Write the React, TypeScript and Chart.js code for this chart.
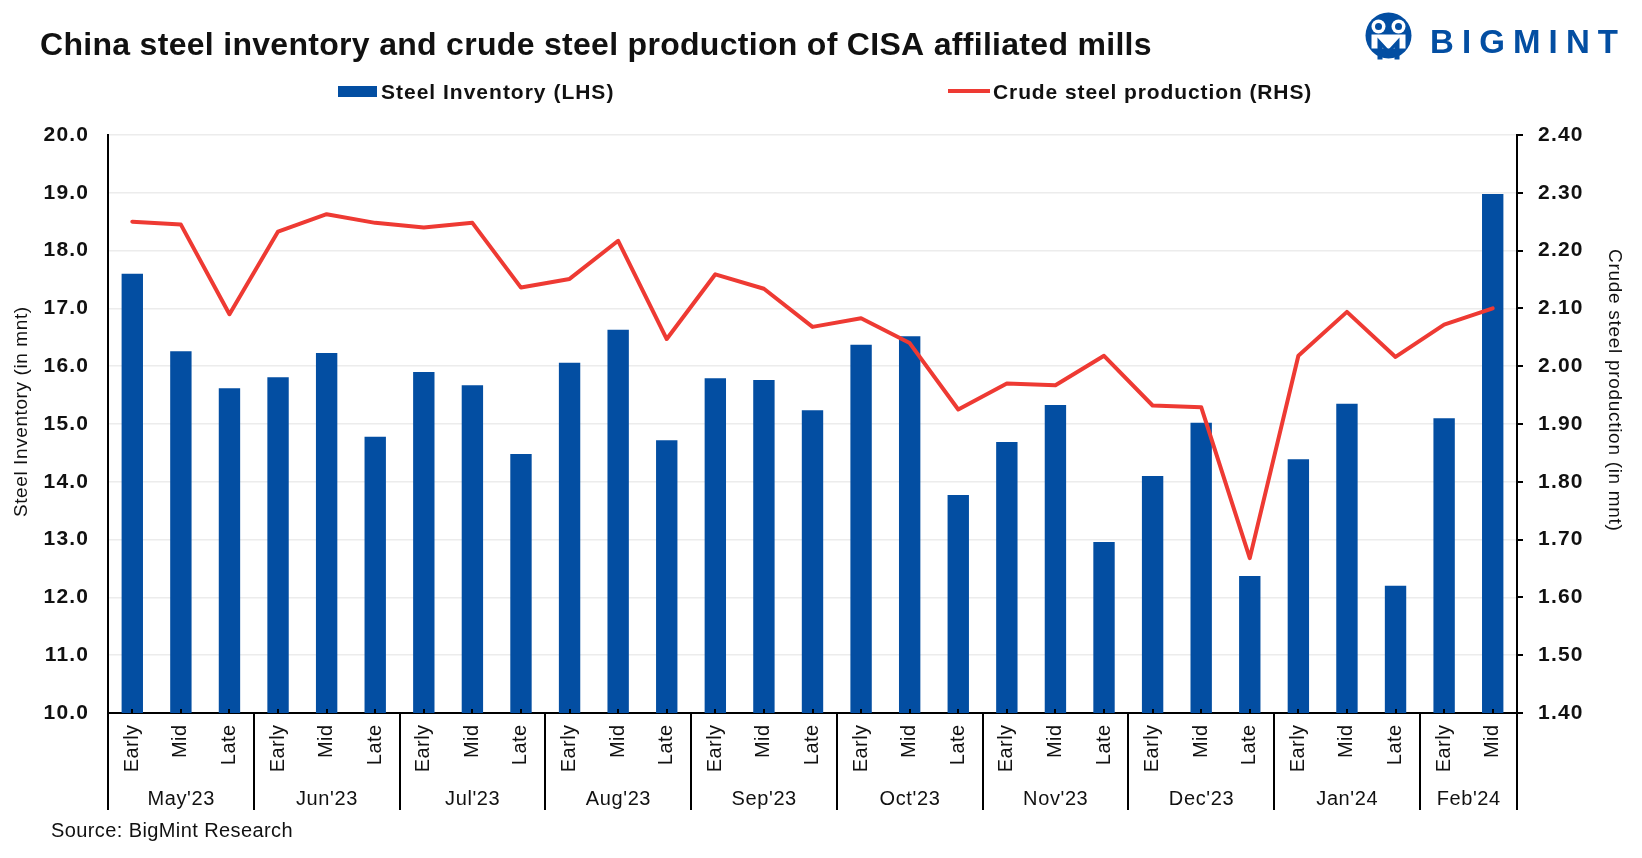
import React, { useEffect, useRef } from "react";
import { Chart, registerables } from "chart.js";

Chart.register(...registerables);

// ---------- data ----------
const periodLabels = [
  "Early", "Mid", "Late", // May'23
  "Early", "Mid", "Late", // Jun'23
  "Early", "Mid", "Late", // Jul'23
  "Early", "Mid", "Late", // Aug'23
  "Early", "Mid", "Late", // Sep'23
  "Early", "Mid", "Late", // Oct'23
  "Early", "Mid", "Late", // Nov'23
  "Early", "Mid", "Late", // Dec'23
  "Early", "Mid", "Late", // Jan'24
  "Early", "Mid",         // Feb'24
];
const months = ["May'23", "Jun'23", "Jul'23", "Aug'23", "Sep'23", "Oct'23", "Nov'23", "Dec'23", "Jan'24", "Feb'24"];
const monthSpans = [3, 3, 3, 3, 3, 3, 3, 3, 3, 2];

const steelInventory = [
  17.6, 16.26, 15.62,
  15.81, 16.23, 14.78,
  15.9, 15.67, 14.48,
  16.06, 16.63, 14.72,
  15.79, 15.76, 15.24,
  16.37, 16.52, 13.77,
  14.69, 15.33, 12.96,
  14.1, 15.02, 12.37,
  14.39, 15.35, 12.2,
  15.1, 18.98,
];
const crudeProduction = [
  2.25, 2.245, 2.09,
  2.233, 2.263, 2.248,
  2.24, 2.248, 2.136,
  2.151, 2.217, 2.047,
  2.159, 2.134, 2.068,
  2.083, 2.04, 1.925,
  1.97, 1.967, 2.018,
  1.932, 1.929, 1.668,
  2.018, 2.094, 2.016,
  2.072, 2.1,
];

const leftTicks = [10, 11, 12, 13, 14, 15, 16, 17, 18, 19, 20];
const rightTicks = [1.4, 1.5, 1.6, 1.7, 1.8, 1.9, 2.0, 2.1, 2.2, 2.3, 2.4];

const titleText = "China steel inventory and crude steel production of CISA affiliated mills";
const legendBar = "Steel Inventory (LHS)";
const legendLine = "Crude steel production (RHS)";
const leftAxisTitle = "Steel Inventory (in mnt)";
const rightAxisTitle = "Crude steel production (in mnt)";
const sourceText = "Source: BigMint Research";
const logoText = "BIGMINT";

// ---------- styles ----------
const W = 1642, H = 858;
const FONT = '"Liberation Sans", Arial, sans-serif';
const BLUE = "#034EA2";
const RED = "#EE3A33";
const INK = "#111111";

function drawText(
  ctx: CanvasRenderingContext2D,
  s: string,
  x: number,
  y: number,
  font: string,
  spacing: number,
  align: CanvasTextAlign = "left",
  baseline: CanvasTextBaseline = "alphabetic"
) {
  ctx.font = font;
  (ctx as any).letterSpacing = `${spacing}px`;
  ctx.textAlign = align;
  ctx.textBaseline = baseline;
  let dx = 0;
  if (align === "right") dx = spacing;
  else if (align === "center") dx = spacing / 2;
  ctx.fillText(s, x + dx, y);
  (ctx as any).letterSpacing = "0px";
}

const decorPlugin = {
  id: "decor",
  afterDraw(chart: any) {
    const ctx: CanvasRenderingContext2D = chart.ctx;
    const { left, right, bottom } = chart.chartArea;
    const xs = chart.scales.x;
    const ys = chart.scales.y;
    const ys1 = chart.scales.y1;
    const n = periodLabels.length;
    const cw = (right - left) / n;
    ctx.save();
    ctx.fillStyle = INK;

    // y tick labels
    leftTicks.forEach((v) => {
      drawText(ctx, v.toFixed(1), 88, ys.getPixelForValue(v), `bold 21px ${FONT}`, 1.2, "right", "middle");
    });
    rightTicks.forEach((v) => {
      drawText(ctx, v.toFixed(2), 1538, ys1.getPixelForValue(v), `bold 21px ${FONT}`, 1.2, "left", "middle");
    });

    // x tick labels (rotated)
    periodLabels.forEach((lab, i) => {
      const px = xs.getPixelForValue(i);
      ctx.save();
      ctx.translate(px, 725);
      ctx.rotate(-Math.PI / 2);
      drawText(ctx, lab, 0, 0, `20px ${FONT}`, 0.4, "right", "middle");
      ctx.restore();
    });

    // inner tick marks on x axis
    ctx.strokeStyle = "#000";
    ctx.lineWidth = 2;
    for (let i = 0; i < n; i++) {
      const px = Math.round(xs.getPixelForValue(i));
      ctx.beginPath();
      ctx.moveTo(px, bottom);
      ctx.lineTo(px, bottom - 4);
      ctx.stroke();
    }

    // month separators
    const bounds = [0];
    let acc = 0;
    monthSpans.forEach((s) => { acc += s; bounds.push(acc); });
    bounds.forEach((b) => {
      const px = Math.round(left + b * cw);
      ctx.beginPath();
      ctx.moveTo(px, bottom);
      ctx.lineTo(px, 810);
      ctx.stroke();
    });

    // month labels
    months.forEach((m, i) => {
      const cx = left + ((bounds[i] + bounds[i + 1]) / 2) * cw;
      drawText(ctx, m, cx, 805, `20px ${FONT}`, 0.6, "center");
    });

    // axis titles
    ctx.save();
    ctx.translate(22, 412);
    ctx.rotate(-Math.PI / 2);
    drawText(ctx, leftAxisTitle, 0, 0, `19px ${FONT}`, 0.6, "center", "middle");
    ctx.restore();
    ctx.save();
    ctx.translate(1614, 390);
    ctx.rotate(Math.PI / 2);
    drawText(ctx, rightAxisTitle, 0, 0, `19px ${FONT}`, 0.7, "center", "middle");
    ctx.restore();

    // title
    drawText(ctx, titleText, 40, 55, `bold 32px ${FONT}`, 0.3, "left");

    // legend
    ctx.fillStyle = BLUE;
    ctx.fillRect(338, 86, 39, 11);
    ctx.fillStyle = INK;
    drawText(ctx, legendBar, 381, 98.5, `bold 21px ${FONT}`, 1, "left");
    ctx.strokeStyle = RED;
    ctx.lineWidth = 4;
    ctx.beginPath();
    ctx.moveTo(948, 91);
    ctx.lineTo(990, 91);
    ctx.stroke();
    drawText(ctx, legendLine, 993, 98.5, `bold 21px ${FONT}`, 0.9, "left");

    // source
    drawText(ctx, sourceText, 51, 837, `20px ${FONT}`, 0.4, "left");

    // logo
    const cx = 1388.5, cy = 35.5;
    ctx.fillStyle = BLUE;
    ctx.beginPath();
    ctx.arc(cx, cy, 23, 0, Math.PI * 2);
    ctx.fill();
    ctx.fillStyle = "#fff";
    ctx.beginPath(); ctx.arc(cx - 10, cy - 9, 7, 0, Math.PI * 2); ctx.fill();
    ctx.beginPath(); ctx.arc(cx + 10, cy - 9, 7, 0, Math.PI * 2); ctx.fill();
    ctx.fillRect(cx - 17, cy - 1, 34, 14);
    ctx.fillStyle = BLUE;
    ctx.beginPath(); ctx.arc(cx - 10, cy - 9, 3.5, 0, Math.PI * 2); ctx.fill();
    ctx.beginPath(); ctx.arc(cx + 10, cy - 9, 3.5, 0, Math.PI * 2); ctx.fill();
    ctx.beginPath();
    ctx.moveTo(cx - 11, cy + 24);
    ctx.lineTo(cx - 11, cy + 2);
    ctx.lineTo(cx, cy + 14);
    ctx.lineTo(cx + 11, cy + 2);
    ctx.lineTo(cx + 11, cy + 24);
    ctx.lineTo(cx + 6, cy + 24);
    ctx.lineTo(cx + 6, cy + 12);
    ctx.lineTo(cx, cy + 20);
    ctx.lineTo(cx - 6, cy + 12);
    ctx.lineTo(cx - 6, cy + 24);
    ctx.closePath();
    ctx.fill();

    ctx.font = `bold 33px ${FONT}`;
    ctx.textAlign = "left";
    ctx.textBaseline = "alphabetic";
    ctx.fillStyle = BLUE;
    let lx = 1430;
    const chars = logoText.split("");
    const total = chars.reduce((s, c) => s + ctx.measureText(c).width, 0);
    const gap = (188 - total) / (chars.length - 1);
    chars.forEach((c) => {
      ctx.fillText(c, lx, 53);
      lx += ctx.measureText(c).width + gap;
    });

    ctx.restore();
  },
};

export default function App() {
  const ref = useRef<HTMLCanvasElement | null>(null);

  useEffect(() => {
    if (!ref.current) return;
    const chart = new Chart(ref.current, {
      type: "bar",
      data: {
        labels: periodLabels,
        datasets: [
          {
            type: "line",
            label: legendLine,
            data: crudeProduction,
            yAxisID: "y1",
            borderColor: RED,
            backgroundColor: RED,
            borderWidth: 4,
            pointRadius: 0,
            tension: 0,
            borderJoinStyle: "round",
            borderCapStyle: "round",
            order: 0,
          } as any,
          {
            type: "bar",
            label: legendBar,
            data: steelInventory,
            yAxisID: "y",
            backgroundColor: BLUE,
            barPercentage: 0.44,
            categoryPercentage: 1,
            order: 1,
          } as any,
        ],
      },
      options: {
        responsive: false,
        animation: false,
        layout: { padding: { top: 135, left: 0, right: 0, bottom: 0 } },
        plugins: {
          legend: { display: false },
          title: { display: false },
          tooltip: { enabled: false },
        },
        scales: {
          x: {
            offset: true,
            grid: { display: false },
            border: { display: true, color: "#000", width: 2 },
            ticks: { display: false, autoSkip: false },
            afterFit(scale: any) { scale.height = 145; },
          },
          y: {
            position: "left",
            min: leftTicks[0],
            max: leftTicks[leftTicks.length - 1],
            ticks: { stepSize: 1, display: false },
            grid: { color: "#ececec", lineWidth: 1.5, drawTicks: false },
            border: { display: true, color: "#000", width: 2 },
            afterFit(scale: any) { scale.width = 108; },
          },
          y1: {
            position: "right",
            min: rightTicks[0],
            max: rightTicks[rightTicks.length - 1],
            ticks: { stepSize: 0.1, display: false },
            grid: { drawOnChartArea: false, drawTicks: true, tickLength: 6, color: "#000", lineWidth: 2 },
            border: { display: true, color: "#000", width: 2 },
            afterFit(scale: any) { scale.width = 125; },
          },
        },
      } as any,
      plugins: [decorPlugin],
    });
    return () => chart.destroy();
  }, []);

  return (
    <div style={{ position: "absolute", left: 0, top: 0, width: W, height: H, background: "#fff" }}>
      <canvas ref={ref} width={W} height={H} style={{ display: "block", width: W, height: H }} />
    </div>
  );
}
